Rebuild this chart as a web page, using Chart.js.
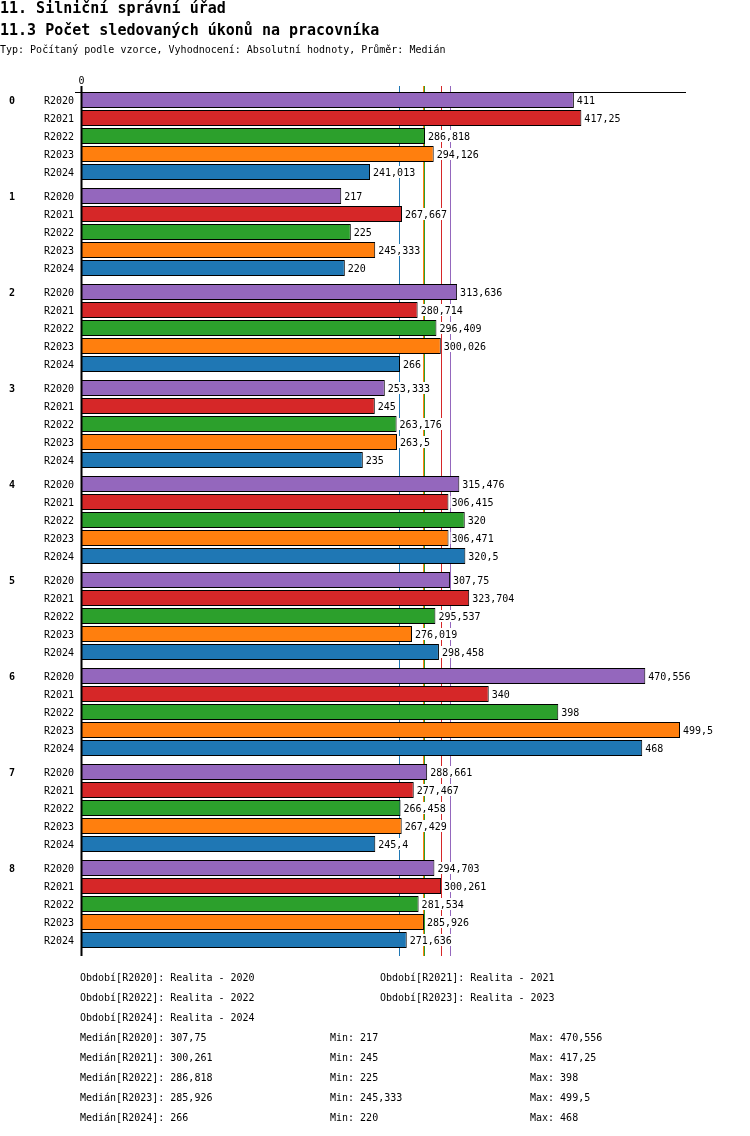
<!DOCTYPE html>
<html>
<head>
<meta charset="utf-8">
<script src="https://cdn.jsdelivr.net/npm/chart.js@4.4.1/dist/chart.umd.min.js"></script>
<style>
  body { margin: 0; background: #fff; font-family: "DejaVu Sans Mono", monospace; color: #000; }
  #wrap { position: relative; width: 750px; height: 1136px; overflow: hidden; }
  canvas { position: absolute; left: 0; top: 0; }
  .t { position: absolute; white-space: pre; line-height: 1; }
  .h1 { font-size: 15px; font-weight: bold; left: 0; }
  .small { font-size: 10px; }
</style>
</head>
<body>
<div id="wrap">
  <canvas id="myChart" width="750" height="1136"></canvas>
  <div class="t h1" style="top:1px">11. Silniční správní úřad</div>
  <div class="t h1" style="top:23px">11.3 Počet sledovaných úkonů na pracovníka</div>
  <div class="t small" style="top:45px">Typ: Počítaný podle vzorce, Vyhodnocení: Absolutní hodnoty, Průměr: Medián</div>
  <div id="notes"></div>
</div>
<script>
// groups and periods
const groups = ['0', '1', '2', '3', '4', '5', '6', '7', '8'];
const periods = ['R2020', 'R2021', 'R2022', 'R2023', 'R2024'];
const periodNames = ['Realita - 2020', 'Realita - 2021', 'Realita - 2022', 'Realita - 2023', 'Realita - 2024'];
const colors = ['#9467bd', '#d62728', '#2ca02c', '#ff7f0e', '#1f77b4'];

// values per period (one entry per group)
const r2020 = [411, 217, 313.636, 253.333, 315.476, 307.75, 470.556, 288.661, 294.703];
const r2021 = [417.25, 267.667, 280.714, 245, 306.415, 323.704, 340, 277.467, 300.261];
const r2022 = [286.818, 225, 296.409, 263.176, 320, 295.537, 398, 266.458, 281.534];
const r2023 = [294.126, 245.333, 300.026, 263.5, 306.471, 276.019, 499.5, 267.429, 285.926];
const r2024 = [241.013, 220, 266, 235, 320.5, 298.458, 468, 245.4, 271.636];
const series = [r2020, r2021, r2022, r2023, r2024];

// stats shown under the chart
const medians = [307.75, 300.261, 286.818, 285.926, 266];
const mins = [217, 245, 225, 245.333, 220];
const maxs = [470.556, 417.25, 398, 499.5, 468];

const fmt = v => String(v).replace('.', ',');
const FONT = '10px "DejaVu Sans Mono", monospace';

// notes below the chart
const notes = document.getElementById('notes');
const addNote = (txt, x, y) => {
    const d = document.createElement('div');
    d.className = 't small';
    d.style.left = x + 'px';
    d.style.top = y + 'px';
    d.textContent = txt;
    notes.appendChild(d);
};
periods.forEach((p, i) => {
    const col = i % 2, row = Math.floor(i / 2);
    addNote('Období[' + p + ']: ' + periodNames[i], col ? 380 : 80, 973 + row * 20);
});
periods.forEach((p, i) => {
    const y = 1033 + i * 20;
    addNote('Medián[' + p + ']: ' + fmt(medians[i]), 80, y);
    addNote('Min: ' + fmt(mins[i]), 330, y);
    addNote('Max: ' + fmt(maxs[i]), 530, y);
});

const decorPlugin = {
    id: 'decor',
    beforeDatasetsDraw(chart) {
        const ctx = chart.ctx, x = chart.scales.x;
        ctx.save();
        ctx.lineWidth = 1;
        medians.forEach((m, i) => {
            const px = Math.floor(x.getPixelForValue(m)) + 0.5;
            ctx.strokeStyle = colors[i];
            ctx.beginPath();
            ctx.moveTo(px, 86);
            ctx.lineTo(px, chart.chartArea.bottom + 4);
            ctx.stroke();
        });
        ctx.restore();
    },
    afterDatasetsDraw(chart) {
        const ctx = chart.ctx, x = chart.scales.x;
        const area = chart.chartArea;
        const first = chart.getDatasetMeta(0).data[0];
        const topY = Math.round(first.y - first.height / 2) + 0.5;
        const x0 = Math.round(x.getPixelForValue(0)) + 0.5;
        ctx.save();
        ctx.font = FONT;
        ctx.textBaseline = 'middle';

        // value labels and period labels
        series.forEach((vals, di) => {
            chart.getDatasetMeta(di).data.forEach((bar, gi) => {
                const txt = fmt(vals[gi]);
                const w = ctx.measureText(txt).width;
                ctx.fillStyle = '#fff';
                ctx.fillRect(bar.x + 2, bar.y - 6, w + 3, 12);
                ctx.fillStyle = '#000';
                ctx.textAlign = 'left';
                ctx.fillText(txt, bar.x + 3, bar.y + 1);
                ctx.textAlign = 'right';
                ctx.fillText(periods[di], 74, bar.y + 1);
                if (di === 0) {
                    ctx.font = 'bold ' + FONT;
                    ctx.textAlign = 'left';
                    ctx.fillText(groups[gi], 9, bar.y + 1);
                    ctx.font = FONT;
                }
            });
        });

        // axes
        ctx.strokeStyle = '#000';
        ctx.lineWidth = 1;
        ctx.beginPath();
        ctx.moveTo(75, topY);
        ctx.lineTo(area.right, topY);
        ctx.stroke();
        ctx.lineWidth = 2;
        ctx.beginPath();
        ctx.moveTo(x0, 86);
        ctx.lineTo(x0, area.bottom + 4);
        ctx.stroke();
        ctx.fillStyle = '#000';
        ctx.textAlign = 'center';
        ctx.fillText('0', x0, 81);
        ctx.restore();
    }
};

new Chart(document.getElementById('myChart').getContext('2d'), {
    type: 'bar',
    data: {
        labels: groups,
        datasets: series.map((vals, i) => ({
            label: periods[i],
            data: vals,
            backgroundColor: colors[i],
            borderColor: '#000',
            borderWidth: 1,
            borderSkipped: false,
            categoryPercentage: 0.9375,
            barPercentage: 0.889
        }))
    },
    options: {
        indexAxis: 'y',
        responsive: false,
        animation: false,
        devicePixelRatio: 1,
        layout: { padding: { left: 81, right: 64, top: 88, bottom: 184 } },
        scales: {
            x: { display: false, min: 0, max: 504.5 },
            y: { display: false }
        },
        plugins: {
            legend: { display: false },
            tooltip: { enabled: false }
        }
    },
    plugins: [decorPlugin]
});
</script>
</body>
</html>
